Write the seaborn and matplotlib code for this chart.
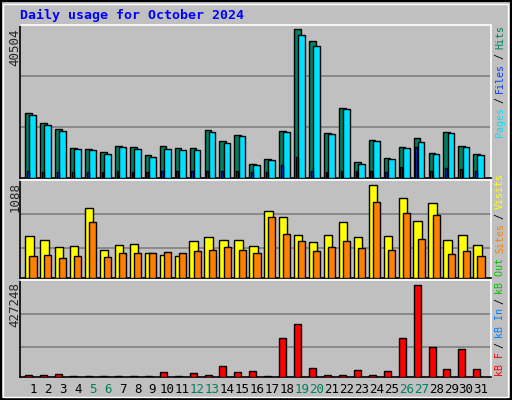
import numpy as np
import pandas as pd
import matplotlib
matplotlib.use("Agg")
import matplotlib.pyplot as plt
import seaborn as sns
from matplotlib.patches import Rectangle

sns.set_style("white")
plt.rcParams['font.family'] = ['DejaVu Sans Mono', 'DejaVu Sans']

days = list(range(1, 32))
day_labels = [str(d) for d in days]
weekend = [5, 6, 12, 13, 19, 20, 26, 27]

hits = [17770, 15000, 13440, 8140, 7870, 7050, 8690, 8500, 6220, 8690, 8140, 8140, 13080, 10060, 11710, 3760, 5130, 12800,
        40504, 37210, 12260, 19110, 4300, 10340, 5400, 8500, 10970, 6770, 12530, 8690, 6500]
pages = [17190, 14450, 12800, 7870, 7600, 6500, 8420, 7870, 5680, 7870, 7600, 7600, 12530, 9510, 11430, 3480, 4850, 12530,
         38850, 35840, 11980, 18840, 3760, 10060, 5130, 8140, 9790, 6500, 12260, 8420, 6220]
files = [1840, 1650, 1650, 1650, 1650, 1650, 1840, 1650, 1650, 1840, 1840, 2000, 1840, 2000, 1840, 1650, 1650, 3480,
         5680, 1840, 1650, 1840, 1840, 1840, 1650, 3100, 8310, 2000, 2820, 2550, 1840]

visits = [42, 38, 31, 32, 69, 28, 33, 34, 25, 23, 22, 37, 41, 38, 38, 32, 66, 60, 43, 36, 43, 55, 41, 92, 42, 79, 56, 74, 38, 43, 33]
visits = [round(v * 1088 / 92) for v in visits]
sites = [22, 23, 20, 22, 55, 21, 25, 25, 25, 26, 25, 27, 28, 31, 28, 25, 60, 44, 37, 27, 31, 37, 30, 75, 28, 64, 39, 62, 24, 27, 22]
sites = [round(v * 1088 / 92) for v in sites]

kbytes = [2.3, 2.3, 3.3, 1.3, 1.3, 1.3, 1.3, 1.3, 1.3, 5.3, 1.3, 4.3, 2.3, 11.3, 5.3, 6.3, 1.3, 38.3, 52.3, 9.3, 2.3, 2.3,
          7.3, 2.3, 6.3, 38.3, 91.3, 29.3, 8.3, 27.3, 8.3]
kbytes = [round(v * 427248 / 91.3) for v in kbytes]

W, H = 512, 400
fig = plt.figure(figsize=(W / 100, H / 100), dpi=100)
fig.patch.set_facecolor('#C0C0C0')
BG = '#C0C0C0'

def px_axes(x0, y0, x1, y1):
    return fig.add_axes([x0 / W, 1 - y1 / H, (x1 - x0) / W, (y1 - y0) / H])

X0, X1 = 20, 491
XL = (0.13, 31.67)

def style(ax, ymax, grid_fracs):
    ax.set_facecolor(BG)
    ax.set_xlim(*XL)
    ax.set_ylim(0, ymax)
    ax.set_xticks([]); ax.set_yticks([])
    ax.set_xlabel(''); ax.set_ylabel('')
    for g in grid_fracs:
        ax.axhline(g * ymax, color='#808080', lw=1.2, zorder=0)
    for s in ['left', 'bottom']:
        ax.spines[s].set_color('black')
    for s in ['top', 'right']:
        ax.spines[s].set_color('white')
    for s in ax.spines.values():
        s.set_linewidth(1.2)

def bars(ax, offset, vals, width, color):
    xs = [d + offset for d in days]
    sns.barplot(x=xs, y=vals, native_scale=True, width=width, color=color,
                edgecolor='black', linewidth=1, saturation=1, ax=ax, zorder=3)

ax1 = px_axes(X0, 25, X1, 178)
ymax1 = 40504 * 152 / 147.7
bars(ax1, -0.29, hits, 0.45, '#008060')
bars(ax1, -0.01, pages, 0.45, '#00E0FF')
bars(ax1, -0.34, files, 0.12, '#0040FF')
style(ax1, ymax1, [50.5 / 152, 101 / 152])

ax2 = px_axes(X0, 180, X1, 278)
ymax2 = 1088 * 97 / 92
bars(ax2, -0.24, visits, 0.56, '#FFFF00')
bars(ax2, 0.0, sites, 0.47, '#FF8000')
style(ax2, ymax2, [30 / 97, 63 / 97])

ax3 = px_axes(X0, 280, X1, 377)
ymax3 = 427248 * 96 / 91.3
bars(ax3, -0.28, kbytes, 0.47, '#FF0000')
style(ax3, ymax3, [29.5 / 96, 62.5 / 96])

ax3.set_xticks(days)
ax3.set_xticklabels(day_labels, fontsize=9)
ax3.tick_params(axis='x', length=0, pad=4)
for t, d in zip(ax3.get_xticklabels(), days):
    t.set_color('#00805C' if d in weekend else 'black')

def ftext(x, y, s, **kw):
    fig.text(x / W, 1 - y / H, s, **kw)

ftext(20, 15, "Daily usage for October 2024", color='#0000FF', fontsize=9.5, fontweight='bold', va='center')
ftext(15, 29, "40504", rotation=90, va='top', ha='center', fontsize=9)
ftext(15, 182, "1088", rotation=90, va='top', ha='center', fontsize=9)
ftext(15, 282, "427248", rotation=90, va='top', ha='center', fontsize=9)

CH = 6.0  # px per char at fontsize 7.2
def stack(ystart, pieces):
    y = ystart
    for s, c in pieces:
        ftext(500, y, s, rotation=90, va='bottom', ha='center', fontsize=7.2, color=c)
        y -= len(s) * CH + 4

stack(376, [("kB F", '#FF0000'), ("/", 'black'), ("kB In", '#0080FF'), ("/", 'black'), ("kB Out", '#00C000')])
stack(253, [("Sites", '#FF8000'), ("/", 'black'), ("Visits", '#FFFF00')])
stack(137, [("Pages", '#00E0FF'), ("/", 'black'), ("Files", '#0040FF'), ("/", 'black'), ("Hits", '#008060')])

fig.patches.append(Rectangle((0, 0), 1, 1, transform=fig.transFigure, fill=False, edgecolor='black', lw=3))
fig.patches.append(Rectangle((3 / W, 3 / H), 1 - 7 / W, 1 - 7 / H, transform=fig.transFigure, fill=False, edgecolor='white', lw=1))

fig.savefig("out.png", dpi=100, facecolor=fig.get_facecolor())
